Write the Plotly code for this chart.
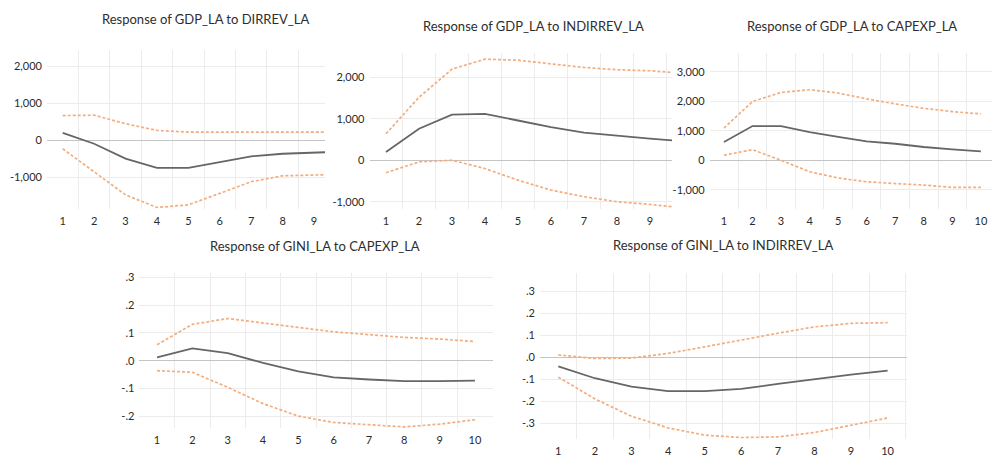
import plotly.graph_objects as go

periods = [1, 2, 3, 4, 5, 6, 7, 8, 9, 10]

titles = [
    "Response of GDP_LA to DIRREV_LA",
    "Response of GDP_LA to INDIRREV_LA",
    "Response of GDP_LA to CAPEXP_LA",
    "Response of GINI_LA to CAPEXP_LA",
    "Response of GINI_LA to INDIRREV_LA",
]

# Panel 1: GDP_LA to DIRREV_LA
p1_mean = [205, -90, -490, -740, -740, -580, -430, -360, -340, -300]
p1_up = [670, 680, 450, 270, 225, 225, 225, 225, 225, 225]
p1_lo = [-225, -850, -1470, -1810, -1740, -1430, -1115, -955, -920, -915]

# Panel 2: GDP_LA to INDIRREV_LA
p2_mean = [200, 760, 1100, 1120, 960, 800, 665, 585, 520, 460]
p2_up = [640, 1520, 2200, 2440, 2415, 2320, 2240, 2185, 2160, 2100]
p2_lo = [-300, -40, 0, -200, -480, -720, -880, -1000, -1065, -1150]

# Panel 3: GDP_LA to CAPEXP_LA
p3_mean = [620, 1160, 1160, 955, 790, 640, 560, 450, 370, 300]
p3_up = [1090, 1990, 2300, 2390, 2280, 2080, 1910, 1760, 1650, 1570]
p3_lo = [170, 360, 0, -390, -600, -730, -790, -840, -920, -920]

# Panel 4: GINI_LA to CAPEXP_LA
p4_mean = [0.012, 0.044, 0.027, -0.008, -0.039, -0.060, -0.068, -0.074, -0.074, -0.072]
p4_up = [0.057, 0.131, 0.152, 0.137, 0.120, 0.104, 0.094, 0.084, 0.078, 0.069]
p4_lo = [-0.036, -0.042, -0.096, -0.155, -0.200, -0.223, -0.231, -0.239, -0.229, -0.213]

# Panel 5: GINI_LA to INDIRREV_LA
p5_mean = [-0.041, -0.095, -0.133, -0.154, -0.154, -0.143, -0.121, -0.098, -0.078, -0.060]
p5_up = [0.011, -0.005, -0.003, 0.018, 0.048, 0.080, 0.110, 0.139, 0.155, 0.158]
p5_lo = [-0.090, -0.189, -0.268, -0.321, -0.354, -0.365, -0.362, -0.342, -0.309, -0.276]

gdp_ticks_1 = [2000, 1000, 0, -1000]
gdp_ticks_2 = [2000, 1000, 0, -1000]
gdp_ticks_3 = [3000, 2000, 1000, 0, -1000]
gini_ticks_4 = [0.3, 0.2, 0.1, 0.0, -0.1, -0.2]
gini_text_4 = [".3", ".2", ".1", ".0", "-.1", "-.2"]
gini_ticks_5 = [0.3, 0.2, 0.1, 0.0, -0.1, -0.2, -0.3]
gini_text_5 = [".3", ".2", ".1", ".0", "-.1", "-.2", "-.3"]

W, H = 992, 460

# layout geometry in pixels: (x0, x1, y_top, y_bottom, xrange, yrange)
panels = [
    dict(mean=p1_mean, up=p1_up, lo=p1_lo, px=(47, 325), py=(47, 207),
         xr=[0.5, 9.35], yr=[-1842, 2448], tv=gdp_ticks_1, tt=["2,000", "1,000", "0", "-1,000"],
         title_xy=(205, 16)),
    dict(mean=p2_mean, up=p2_up, lo=p2_lo, px=(369.5, 672), py=(50, 207),
         xr=[0.5, 9.67], yr=[-1168, 2597], tv=gdp_ticks_2, tt=["2,000", "1,000", "0", "-1,000"],
         title_xy=(533, 23)),
    dict(mean=p3_mean, up=p3_up, lo=p3_lo, px=(709.7, 992), py=(50, 207),
         xr=[0.5, 10.39], yr=[-1640, 3646], tv=gdp_ticks_3,
         tt=["3,000", "2,000", "1,000", "0", "-1,000"], title_xy=(852, 23)),
    dict(mean=p4_mean, up=p4_up, lo=p4_lo, px=(139.4, 492.6), py=(271.7, 428),
         xr=[0.5, 10.5], yr=[-0.2437, 0.3165], tv=gini_ticks_4, tt=gini_text_4,
         title_xy=(315, 245)),
    dict(mean=p5_mean, up=p5_up, lo=p5_lo, px=(540, 907), py=(271.7, 438.5),
         xr=[0.5, 10.53], yr=[-0.37, 0.3846], tv=gini_ticks_5, tt=gini_text_5,
         title_xy=(723, 244)),
]

fig = go.Figure()
mean_color = "#666666"
band_color = "#f3ad7e"
font_family = "Lato"

annotations = []
for i, p in enumerate(panels, start=1):
    xa = "x" if i == 1 else f"x{i}"
    ya = "y" if i == 1 else f"y{i}"
    for series, color, dash, width in [
        (p["up"], band_color, "3px,2px", 1.7),
        (p["lo"], band_color, "3px,2px", 1.7),
        (p["mean"], mean_color, "solid", 1.8),
    ]:
        fig.add_trace(go.Scatter(x=periods, y=series, mode="lines", xaxis=xa, yaxis=ya,
                                 line=dict(color=color, dash=dash, width=width),
                                 showlegend=False, hoverinfo="skip"))
    xkey = "xaxis" if i == 1 else f"xaxis{i}"
    ykey = "yaxis" if i == 1 else f"yaxis{i}"
    fig.layout[xkey] = dict(
        domain=[p["px"][0] / W, p["px"][1] / W], range=p["xr"], anchor=ya,
        tickvals=periods, ticktext=[str(v) for v in periods], showgrid=False,
        zeroline=False, showline=False, ticks="", ticklabelstandoff=4,
        tickfont=dict(family=font_family, size=11, color="#2a2a2a"),
        minor=dict(tick0=0.5, dtick=1, showgrid=True, gridcolor="#ececec", gridwidth=1, ticks=""),
        fixedrange=True,
    )
    fig.layout[ykey] = dict(
        domain=[1 - p["py"][1] / H, 1 - p["py"][0] / H], range=p["yr"], anchor=xa,
        tickvals=p["tv"], ticktext=p["tt"], showgrid=True, gridcolor="#ececec",
        zeroline=True, zerolinecolor="#c4c4c4", zerolinewidth=1, showline=False,
        ticks="", ticklabelstandoff=4,
        tickfont=dict(family=font_family, size=11, color="#2a2a2a"), fixedrange=True,
    )
    tx, ty = p["title_xy"]
    annotations.append(dict(text=titles[i - 1], x=tx / W, y=1 - ty / H, xref="paper", yref="paper",
                            xanchor="center", yanchor="middle", showarrow=False,
                            font=dict(family=font_family, size=13, color="#2e2e2e")))

fig.update_layout(width=W, height=H, margin=dict(l=0, r=0, t=0, b=0),
                  paper_bgcolor="white", plot_bgcolor="white", annotations=annotations)

fig.write_html("out.html")
